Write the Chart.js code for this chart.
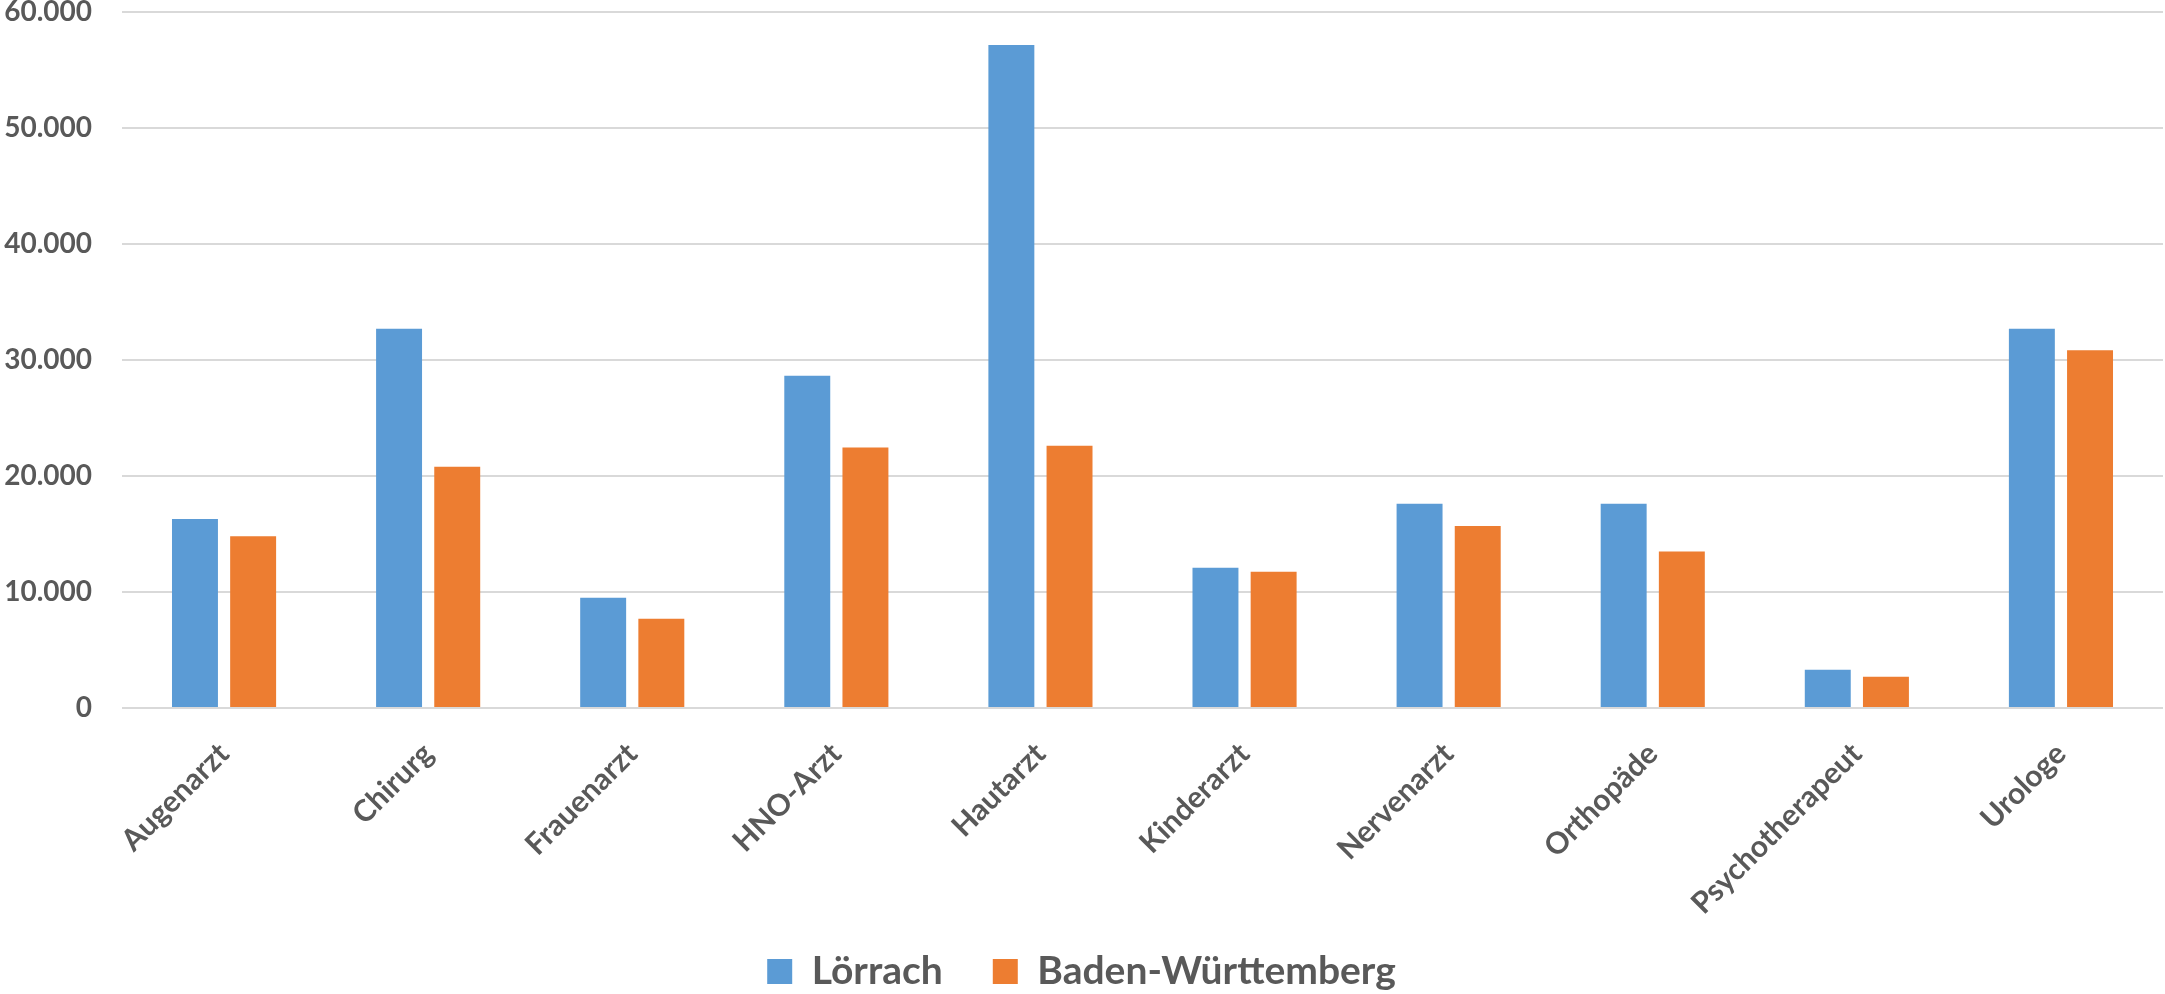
<!DOCTYPE html>
<html>
<head>
<meta charset="utf-8">
<script src="https://cdn.jsdelivr.net/npm/chart.js@4"></script>
<style>
  html, body { margin: 0; padding: 0; background: #fff; }
  canvas { display: block; }
</style>
</head>
<body>
<canvas id="chart" width="2165" height="994"></canvas>
<script>
const categories = ["Augenarzt", "Chirurg", "Frauenarzt", "HNO-Arzt", "Hautarzt", "Kinderarzt", "Nervenarzt", "Orthopäde", "Psychotherapeut", "Urologe"]
const loerrach = [16300, 32700, 9500, 28650, 57150, 12100, 17600, 17600, 3300, 32700]
const badenWuerttemberg = [14800, 20800, 7700, 22450, 22600, 11750, 15700, 13500, 2700, 30850]
const seriesNames = ["Lörrach", "Baden-Württemberg"]

const textColor = "#595959"
const fontFamily = "Lato, 'Open Sans', sans-serif"

// 60000 -> "60.000"
const formatDe = (v) => String(v).replace(/\B(?=(\d{3})+(?!\d))/g, ".")

const ctx = document.getElementById("chart").getContext("2d")

new Chart(ctx, {
  type: "bar",
  data: {
    labels: categories,
    datasets: [
      {
        label: seriesNames[0],
        data: loerrach,
        backgroundColor: "#5B9BD5",
        categoryPercentage: 0.57,
        barPercentage: 0.79
      },
      {
        label: seriesNames[1],
        data: badenWuerttemberg,
        backgroundColor: "#ED7D31",
        categoryPercentage: 0.57,
        barPercentage: 0.79
      }
    ]
  },
  options: {
    responsive: false,
    animation: false,
    layout: { padding: { top: 0, right: 2, left: 0, bottom: -7 } },
    plugins: {
      tooltip: { enabled: false },
      legend: {
        position: "bottom",
        labels: {
          color: textColor,
          font: { family: fontFamily, size: 39, weight: "bold" },
          boxWidth: 25,
          boxHeight: 25,
          padding: 50
        }
      }
    },
    scales: {
      x: {
        grid: { display: false },
        border: { display: false },
        ticks: {
          color: textColor,
          font: { family: fontFamily, size: 30, weight: "bold" },
          maxRotation: 45,
          minRotation: 45,
          autoSkip: false,
          padding: 20
        },
        // keep the rotated labels from pushing the plot inwards
        afterFit: (scale) => {
          scale.paddingLeft = 0
          scale.paddingRight = 0
          scale.height = 194
          // long labels may run a bit past the axis box, don't cut them off
          scale._computeLabelArea = () => undefined
        }
      },
      y: {
        min: 0,
        max: 60000,
        grid: { color: "#d9d9d9", lineWidth: 2, drawTicks: false },
        border: { display: false },
        ticks: {
          stepSize: 10000,
          color: textColor,
          font: { family: fontFamily, size: 28, weight: "bold" },
          padding: 30,
          callback: (v) => formatDe(v)
        },
        afterFit: (scale) => {
          scale.width = 122
          scale.paddingTop = 12
          scale.paddingBottom = 0
        }
      }
    }
  }
})
</script>
</body>
</html>
